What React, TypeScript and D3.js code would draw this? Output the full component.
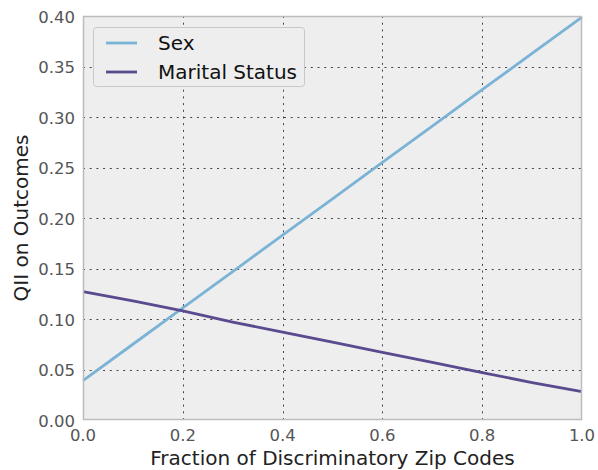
import React, { useEffect, useRef } from "react";
import * as d3 from "d3";

const fractions = [0.0, 0.1, 0.2, 0.3, 0.4, 0.5, 0.6, 0.7, 0.8, 0.9, 1.0];
const sexValues = [0.039, 0.075, 0.111, 0.147, 0.183, 0.219, 0.255, 0.291, 0.327, 0.363, 0.399];
const maritalValues = [0.127, 0.118, 0.108, 0.097, 0.087, 0.077, 0.067, 0.057, 0.047, 0.037, 0.028];
const seriesNames = ["Sex", "Marital Status"];
const seriesColors = ["#7bb3d6", "#5a4a8e"];
const xTicks = [0, 0.2, 0.4, 0.6, 0.8, 1.0];
const yTicks = [0, 0.05, 0.1, 0.15, 0.2, 0.25, 0.3, 0.35, 0.4];

export default function App() {
  const ref = useRef<SVGSVGElement>(null);

  useEffect(() => {
    const svg = d3.select(ref.current);
    svg.selectAll("*").remove();

    const left = 83, right = 582, top = 16, bottom = 420;
    const font = "'DejaVu Sans', sans-serif";

    const x = d3.scaleLinear().domain([0, 1]).range([left, right]);
    const y = d3.scaleLinear().domain([0, 0.4]).range([bottom, top]);

    svg.append("rect")
      .attr("x", left).attr("y", top)
      .attr("width", right - left).attr("height", bottom - top)
      .attr("fill", "#eeeeee");

    // grid, dotted
    const grid = svg.append("g")
      .attr("stroke", "#444")
      .attr("stroke-width", 1)
      .attr("stroke-dasharray", "2,4.7");
    xTicks.slice(1, -1).forEach(t => {
      grid.append("line")
        .attr("x1", Math.round(x(t)) + 0.5).attr("x2", Math.round(x(t)) + 0.5)
        .attr("y1", top).attr("y2", bottom);
    });
    yTicks.slice(1, -1).forEach(t => {
      grid.append("line")
        .attr("y1", Math.round(y(t)) + 0.5).attr("y2", Math.round(y(t)) + 0.5)
        .attr("x1", left).attr("x2", right);
    });

    // lines
    const series = [sexValues, maritalValues];
    const line = d3.line<number>()
      .x((d, i) => x(fractions[i]))
      .y(d => y(d));
    series.forEach((vals, i) => {
      svg.append("path")
        .attr("d", line(vals))
        .attr("fill", "none")
        .attr("stroke", seriesColors[i])
        .attr("stroke-width", 2.8);
    });

    // frame
    svg.append("rect")
      .attr("x", left + 0.5).attr("y", top + 0.5)
      .attr("width", right - left - 1).attr("height", bottom - top - 1)
      .attr("fill", "none")
      .attr("stroke", "#bcbcbc")
      .attr("stroke-width", 1.5);

    // tick labels
    svg.append("g").selectAll("text")
      .data(xTicks).enter().append("text")
      .attr("x", d => x(d))
      .attr("y", 441)
      .attr("text-anchor", "middle")
      .attr("font-family", font)
      .attr("font-size", 16.5)
      .attr("fill", "#555")
      .text(d => d.toFixed(1));

    svg.append("g").selectAll("text")
      .data(yTicks).enter().append("text")
      .attr("x", 75)
      .attr("y", d => y(d) + 6.5)
      .attr("text-anchor", "end")
      .attr("font-family", font)
      .attr("font-size", 16.5)
      .attr("fill", "#555")
      .text(d => d.toFixed(2));

    // axis labels
    svg.append("text")
      .attr("x", (left + right) / 2)
      .attr("y", 465)
      .attr("text-anchor", "middle")
      .attr("font-family", font)
      .attr("font-size", 20)
      .attr("fill", "#222")
      .text("Fraction of Discriminatory Zip Codes");

    svg.append("text")
      .attr("transform", `translate(28,${(top + bottom) / 2}) rotate(-90)`)
      .attr("text-anchor", "middle")
      .attr("font-family", font)
      .attr("font-size", 20)
      .attr("fill", "#222")
      .text("QII on Outcomes");

    // legend
    const lg = svg.append("g");
    lg.append("rect")
      .attr("x", 93.5).attr("y", 27.5)
      .attr("width", 211).attr("height", 59)
      .attr("rx", 3)
      .attr("fill", "#eeeeee")
      .attr("stroke", "#c8c8c8")
      .attr("stroke-width", 1);
    seriesNames.forEach((name, i) => {
      const ly = 43 + i * 29;
      lg.append("line")
        .attr("x1", 106).attr("x2", 137)
        .attr("y1", ly).attr("y2", ly)
        .attr("stroke", seriesColors[i])
        .attr("stroke-width", 2.8);
      lg.append("text")
        .attr("x", 158)
        .attr("y", ly + 7)
        .attr("font-family", font)
        .attr("font-size", 20)
        .attr("fill", "#111")
        .text(name);
    });
  }, []);

  return (
    <svg ref={ref} width={598} height={470}
      style={{ position: "absolute", left: 0, top: 0, background: "#fff" }} />
  );
}
